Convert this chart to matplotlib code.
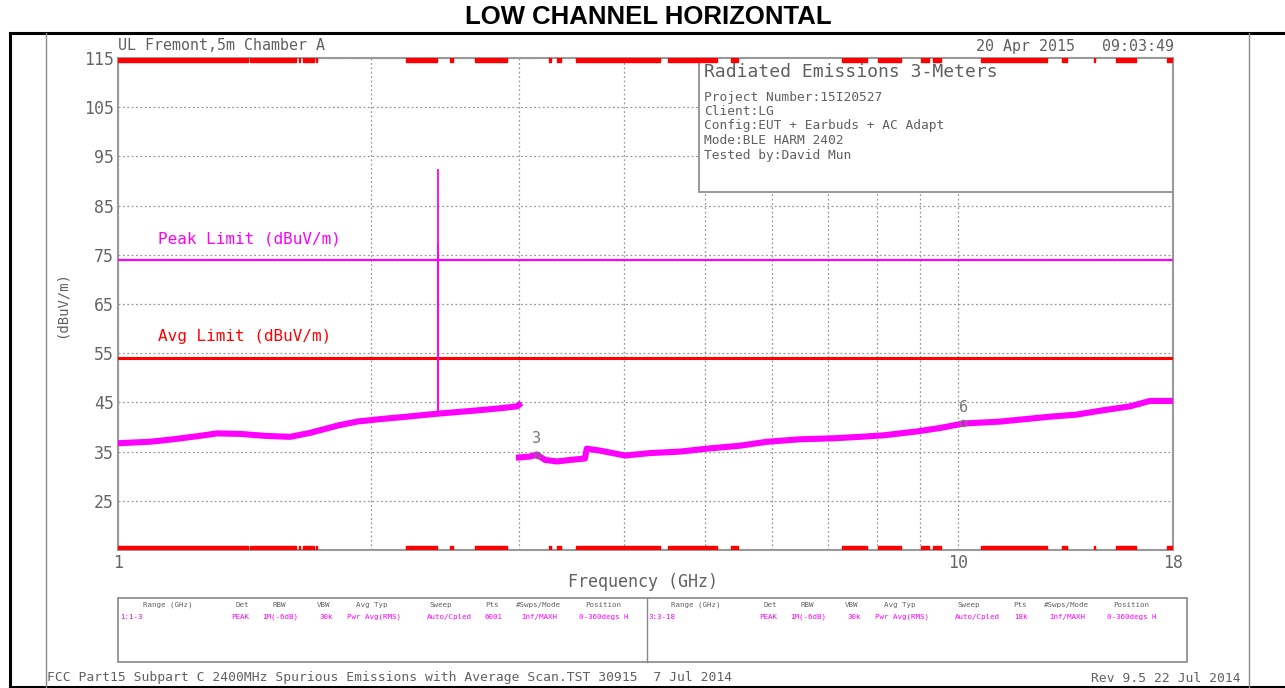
import matplotlib.pyplot as plt
from matplotlib.patches import Rectangle
from matplotlib.lines import Line2D
from matplotlib.ticker import NullFormatter

W, H = 1285, 688

# scan 1: 1-3 GHz (GHz, dBuV/m)
f_low = [1.0, 1.092, 1.163, 1.252, 1.311, 1.397, 1.496, 1.602, 1.692, 1.753,
         1.837, 1.925, 2.05, 2.208, 2.397, 2.645, 2.848, 2.985, 3.0]
lvl_low = [36.7, 37.0, 37.5, 38.2, 38.7, 38.6, 38.2, 38.0, 38.8, 39.5,
           40.4, 41.1, 41.6, 42.1, 42.7, 43.3, 43.8, 44.2, 44.5]

# scan 2: 3-18 GHz
f_high = [3.0, 3.093, 3.15, 3.222, 3.33, 3.451, 3.594, 3.612, 3.746, 4.012,
          4.296, 4.664, 5.022, 5.497, 5.919, 6.479, 7.093, 7.636, 8.135, 8.927,
          9.508, 10.13, 11.21, 12.85, 13.8, 14.74, 16.0, 16.9, 18.0]
lvl_high = [33.8, 34.0, 34.4, 33.3, 33.0, 33.3, 33.6, 35.6, 35.2, 34.2,
            34.7, 35.0, 35.6, 36.2, 37.0, 37.5, 37.7, 38.0, 38.3, 39.1,
            39.8, 40.7, 41.1, 42.1, 42.5, 43.3, 44.2, 45.3, 45.3]

# carrier spikes near 2402 MHz
spike_f = [2.400, 2.403]
spike_lvl = [77.1, 92.5]
spike_base = 43.0

peak_limit = 74
avg_limit = 54

marker_ids = ['3', '6']
marker_f = [3.15, 10.13]
marker_lvl = [34.4, 40.8]

# red scan-segment indicator (GHz start, end)
scan_segments = [(1.0, 1.428), (1.436, 1.628), (1.643, 1.647), (1.660, 1.711),
                 (1.720, 1.725), (2.201, 2.306), (2.313, 2.397), (2.483, 2.504),
                 (2.659, 2.903), (3.257, 3.276), (3.330, 3.367), (3.508, 4.416),
                 (4.512, 5.162), (5.365, 5.467), (7.268, 7.784), (8.023, 8.546),
                 (9.03, 9.227), (9.328, 9.535), (10.64, 12.75), (13.29, 13.47),
                 (14.50, 14.54), (15.40, 16.27), (17.71, 18.0)]

y_ticks = [25, 35, 45, 55, 65, 75, 85, 95, 105, 115]
x_major = [1, 10, 18]
x_minor = [2, 3, 4, 5, 6, 7, 8, 9]

info_lines = ['Project Number:15I20527', 'Client:LG',
              'Config:EUT + Earbuds + AC Adapt', 'Mode:BLE HARM 2402',
              'Tested by:David Mun']

tbl_headers = ['Range (GHz)', 'Det', 'RBW', 'VBW', 'Avg Typ', 'Sweep', 'Pts',
               '#Swps/Mode', 'Position']
tbl_row1 = ['1:1-3', 'PEAK', '1M(-6dB)', '30k', 'Pwr Avg(RMS)', 'Auto/Cpled',
            '6001', 'Inf/MAXH', '0-360degs H']
tbl_row2 = ['3:3-18', 'PEAK', '1M(-6dB)', '30k', 'Pwr Avg(RMS)', 'Auto/Cpled',
            '18k', 'Inf/MAXH', '0-360degs H']
hdr_x = [168, 242, 279, 324, 372, 441, 492, 538, 603]
row_x = [120, 240, 280, 326, 374, 449, 493, 539, 604]

MONO = 'DejaVu Sans Mono'
GREY = '#606060'
MAG = '#ff00ff'


def fx(px):
    return px / W


def fy(py):
    return 1 - py / H


fig = plt.figure(figsize=(W / 100, H / 100), dpi=100)
fig.patch.set_facecolor('white')

# outer frame
fig.add_artist(Line2D([fx(10), 1], [fy(33), fy(33)], color='black', lw=2.2))
fig.add_artist(Line2D([fx(10), fx(10)], [fy(33), 0], color='black', lw=2.2))
fig.add_artist(Line2D([fx(10), 1], [fy(687), fy(687)], color='black', lw=2.2))
fig.add_artist(Line2D([fx(46), fx(46)], [fy(33), fy(687)], color='#888888', lw=1))
fig.add_artist(Line2D([fx(1249), fx(1249)], [fy(33), fy(687)], color='#888888', lw=1))

fig.text(fx(648), fy(17), 'LOW CHANNEL HORIZONTAL', ha='center', va='center',
         fontsize=18.5, fontweight='bold', family='Liberation Sans')

ax = fig.add_axes([fx(118), fy(550), (1173 - 118) / W, (550 - 58) / H])
ax.set_xscale('log')
ax.set_xlim(1, 18)
ax.set_ylim(15, 115)

ax.set_xticks(x_major)
ax.set_xticklabels([str(v) for v in x_major])
ax.set_xticks(x_minor, minor=True)
ax.xaxis.set_minor_formatter(NullFormatter())
ax.set_yticks(y_ticks)
ax.set_yticklabels([str(v) for v in y_ticks])
ax.tick_params(which='both', length=0, labelcolor='#666666', labelsize=12, pad=3)
for lab in ax.get_xticklabels() + ax.get_yticklabels():
    lab.set_family(MONO)
ax.grid(which='both', color='#999999', ls=(0, (1.5, 2)), lw=0.9)
for s in ax.spines.values():
    s.set_color('#999999')
    s.set_linewidth(1.5)

ax.set_xlabel('Frequency (GHz)', family=MONO, fontsize=12, color=GREY, va='center')
ax.xaxis.set_label_coords(0.4975, -(582 - 550) / 492)
ax.set_ylabel('(dBuV/m)', family=MONO, fontsize=10, color=GREY, va='center')
ax.yaxis.set_label_coords(-(118 - 62) / 1055, (550 - 305) / 492)

# limit lines
ax.axhline(peak_limit, color=MAG, lw=1.6, zorder=3)
ax.axhline(avg_limit, color='red', lw=2.2, zorder=3)
ax.text(0.038, 78.3, 'Peak Limit (dBuV/m)', transform=ax.get_yaxis_transform(),
        family=MONO, fontsize=11.5, color=MAG, va='center')
ax.text(0.038, 58.3, 'Avg Limit (dBuV/m)', transform=ax.get_yaxis_transform(),
        family=MONO, fontsize=11.5, color='red', va='center')

# traces
ax.plot(f_low, lvl_low, color=MAG, lw=4.4, zorder=4, solid_joinstyle='round')
ax.plot(f_high, lvl_high, color=MAG, lw=4.4, zorder=4, solid_joinstyle='round')
ax.vlines(spike_f, spike_base, spike_lvl, color=MAG, lw=1.3, zorder=4)

# markers
for mid, mf, ml in zip(marker_ids, marker_f, marker_lvl):
    ax.plot(mf, ml, 'o', ms=4.5, mfc='none', mec='#777777', mew=1, zorder=5)
    ax.annotate(mid, (mf, ml), xytext=(0, 6), textcoords='offset points',
                ha='center', va='bottom', family=MONO, fontsize=11, color='#777777',
                zorder=5)

# scan segment bars
bars = [(a, b - a) for a, b in scan_segments]
ax.broken_barh(bars, (15, 0.8), color='red', zorder=6)
ax.broken_barh(bars, (114.2, 0.8), color='red', zorder=6)

# info box
ax.add_patch(Rectangle((0.551, 0.728), 0.449, 0.272, transform=ax.transAxes,
                       facecolor='white', edgecolor='#888888', lw=1.2, zorder=5))
fig.text(fx(704), fy(72), 'Radiated Emissions 3-Meters', family=MONO,
         fontsize=13, color=GREY, va='center')
for i, line in enumerate(info_lines):
    fig.text(fx(704), fy(97 + i * 14.5), line, family=MONO, fontsize=9.3,
             color=GREY, va='center')

# header / footer
fig.text(fx(118), fy(46), 'UL Fremont,5m Chamber A', family=MONO, fontsize=10.8,
         color=GREY, va='center')
fig.text(fx(1174), fy(46), '20 Apr 2015   09:03:49', family=MONO, fontsize=10.8,
         color=GREY, va='center', ha='right')
fig.text(fx(47), fy(678),
         'FCC Part15 Subpart C 2400MHz Spurious Emissions with Average Scan.TST 30915  7 Jul 2014',
         family=MONO, fontsize=9.4, color=GREY, va='center')
fig.text(fx(1241), fy(678), 'Rev 9.5 22 Jul 2014', family=MONO, fontsize=9.4,
         color=GREY, va='center', ha='right')

# settings table
fig.add_artist(Rectangle((fx(118), fy(662)), fx(1187) - fx(118), fy(598) - fy(662),
                         facecolor='none', edgecolor='#888888', lw=1.2))
fig.add_artist(Line2D([fx(647), fx(647)], [fy(598), fy(662)], color='#888888', lw=1))
for off, row in [(0, tbl_row1), (528, tbl_row2)]:
    for j, (hx, rx) in enumerate(zip(hdr_x, row_x)):
        fig.text(fx(hx + off), fy(605), tbl_headers[j], family=MONO, fontsize=5.4,
                 color=GREY, ha='center', va='center')
        fig.text(fx(rx + off), fy(617), row[j], family=MONO, fontsize=5.4,
                 color=MAG, ha='left' if j == 0 else 'center', va='center')

fig.savefig('out.png', dpi=100)
